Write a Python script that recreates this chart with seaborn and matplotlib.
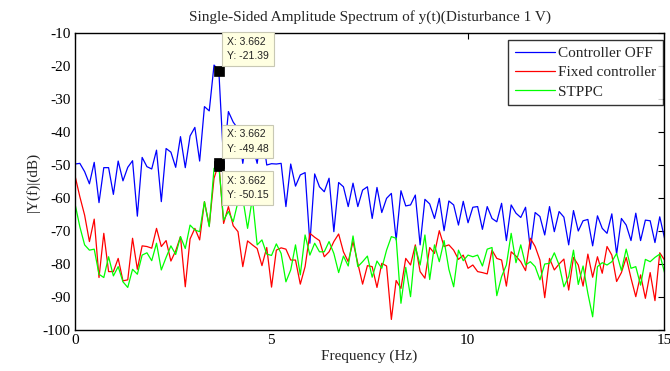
import numpy as np
import pandas as pd
import seaborn as sns
import matplotlib.pyplot as plt

# FFT bin spacing (fs / N)
df_hz = 125 / 1024

# |Y(f)| in dB, one value per frequency bin
ctrl_off = [-49.7, -49.5, -52.0, -55.7, -49.2, -61.4, -50.8, -50.8, -58.9, -48.8,
            -54.8, -50.7, -48.7, -65.5, -47.7, -50.5, -51.2, -45.5, -61.1, -45.0,
            -46.1, -50.7, -41.4, -50.8, -41.2, -38.6, -48.8, -32.3, -33.6, -19.7,
            -21.39, -49.0, -33.8, -37.0, -39.0, -49.5, -40.0, -44.0, -49.5, -39.0,
            -50.0, -49.6, -49.7, -49.5, -62.6, -49.7, -56.4, -53.0, -52.3, -73.7,
            -52.7, -56.6, -58.1, -54.0, -70.2, -55.3, -56.6, -62.6, -55.5, -62.6,
            -57.6, -56.6, -66.2, -56.8, -64.4, -60.1, -58.6, -72.7, -57.8, -62.4,
            -62.1, -59.1, -74.2, -60.4, -61.8, -66.2, -60.1, -69.9, -60.9, -62.1,
            -68.2, -61.0, -67.5, -62.8, -62.6, -69.5, -62.6, -66.2, -67.2, -61.6,
            -72.9, -62.1, -64.6, -65.9, -62.8, -75.5, -64.4, -65.6, -71.2, -62.6,
            -70.2, -64.1, -65.8, -74.2, -63.8, -70.0, -66.9, -66.5, -74.5, -65.4,
            -69.2, -70.7, -64.8, -77.0, -66.2, -68.2, -72.9, -64.6, -72.9, -66.7,
            -66.9, -73.5, -65.7, -72.2]

fixed_ctrl = [-53.3, -59.6, -65.2, -73.2, -66.4, -84.1, -70.7, -82.3, -82.3, -78.3,
              -85.1, -84.8, -72.2, -81.6, -74.5, -74.7, -75.2, -69.2, -74.7, -72.9,
              -79.1, -76.0, -71.7, -86.9, -72.4, -69.2, -72.7, -61.1, -68.4, -54.0,
              -49.48, -67.7, -62.6, -68.4, -70.2, -80.8, -73.0, -74.2, -75.3, -80.5,
              -75.0, -87.0, -75.8, -75.1, -75.5, -78.8, -78.8, -86.1, -80.8, -70.7,
              -71.9, -72.9, -77.8, -76.3, -73.2, -70.9, -76.3, -79.3, -73.2, -79.8,
              -86.1, -80.5, -80.8, -87.1, -79.8, -80.6, -96.8, -85.0, -87.4, -78.3,
              -80.3, -74.2, -82.3, -84.3, -75.0, -76.8, -69.9, -74.7, -74.2, -75.8,
              -78.6, -77.3, -81.3, -80.3, -82.3, -82.6, -83.0, -75.8, -78.3, -78.8,
              -86.7, -76.3, -77.6, -79.3, -82.0, -72.2, -74.7, -78.8, -90.2, -78.3,
              -81.8, -80.0, -78.5, -87.9, -78.0, -80.3, -86.7, -77.0, -84.0, -77.8,
              -82.8, -74.7, -77.3, -85.3, -82.6, -78.0, -84.3, -89.9, -83.3, -90.4,
              -82.6, -91.1, -76.6, -78.8]

stppc = [-61.8, -68.7, -74.2, -75.8, -75.5, -83.1, -84.1, -77.8, -83.6, -80.8,
         -85.4, -87.1, -81.6, -83.1, -77.3, -76.6, -79.0, -73.7, -81.8, -78.0,
         -74.5, -77.1, -71.7, -75.3, -68.2, -69.7, -70.2, -61.1, -68.7, -51.0,
         -50.15, -66.7, -64.1, -67.2, -61.1, -60.1, -69.2, -60.1, -74.2, -72.7,
         -77.0, -77.4, -73.9, -76.8, -85.4, -81.8, -74.2, -83.3, -71.2, -77.3,
         -73.7, -76.3, -76.3, -73.2, -76.8, -82.6, -77.6, -80.6, -71.5, -80.8,
         -79.3, -77.6, -84.0, -79.1, -81.3, -75.8, -71.7, -72.2, -91.9, -81.0,
         -89.9, -74.7, -80.3, -71.2, -84.7, -74.2, -79.3, -72.9, -81.6, -86.9,
         -75.8, -79.0, -77.3, -77.8, -77.3, -80.6, -75.5, -75.0, -89.6, -83.8,
         -80.3, -70.7, -79.6, -74.2, -80.3, -79.3, -80.8, -84.8, -80.0, -79.8,
         -76.6, -80.3, -86.9, -83.8, -75.8, -86.2, -80.6, -88.9, -96.0, -80.8,
         -79.6, -80.3, -79.3, -76.8, -82.0, -75.5, -81.3, -80.8, -86.4, -78.6,
         -79.3, -78.0, -77.0, -82.6]

series_names = ['Controller OFF', 'Fixed controller', 'STPPC']
series_colors = ['#0000ff', '#ff0000', '#00ff00']

# data tips (x, y)
tip_x = [3.662, 3.662, 3.662]
tip_y = [-21.39, -49.48, -50.15]

freq = np.arange(len(ctrl_off)) * df_hz
df = pd.concat([
    pd.DataFrame({'freq': freq, 'amp': vals, 'series': name})
    for name, vals in zip(series_names, [ctrl_off, fixed_ctrl, stppc])
])

sns.set_theme(style='white')
plt.rcParams['font.family'] = ['Liberation Serif', 'DejaVu Serif']
plt.rcParams['axes.unicode_minus'] = False

fig = plt.figure(figsize=(6.7, 3.71), dpi=100)
ax = fig.add_axes([0.112, 0.1105, 0.879, 0.8005])

sns.lineplot(data=df, x='freq', y='amp', hue='series', hue_order=series_names,
             palette=series_colors, estimator=None, sort=False, linewidth=0.9, ax=ax)

ax.set_xlim(0, 15)
ax.set_ylim(-100, -10)
ax.set_xticks([0, 5, 10, 15])
ax.set_yticks(np.arange(-100, -9, 10))
ax.tick_params(direction='in', length=4, width=0.8, top=True, right=True,
               labelsize=11, colors='black', pad=3)
for s in ax.spines.values():
    s.set_color('black')
    s.set_linewidth(1.0)

ax.set_title('Single-Sided Amplitude Spectrum of y(t)(Disturbance 1 V)', fontsize=11, pad=9)
ax.set_xlabel('Frequency (Hz)', fontsize=11, labelpad=2)
ax.set_ylabel('|Y(f)|(dB)', fontsize=11, labelpad=2)

leg = ax.legend(loc='upper right', bbox_to_anchor=(0.999, 0.977), borderaxespad=0,
                fontsize=11, frameon=True, fancybox=False, handlelength=2.6,
                borderpad=0.45, labelspacing=0.35, handletextpad=0.25)
leg.get_frame().set_edgecolor('black')
leg.get_frame().set_linewidth(1.0)

# data tip markers
ax.plot(tip_x, tip_y, linestyle='none', marker='s', markersize=6.5,
        markerfacecolor='black', markeredgecolor='black', markeredgewidth=0.5, zorder=5)

tip_box = dict(boxstyle='square,pad=0.45', fc='#ffffe1', ec='#c8c8b4', lw=0.8)
tip_pos = [(3.87, -11.2), (3.87, -39.2), (3.87, -53.2)]
for (tx, ty), xv, yv in zip(tip_pos, tip_x, tip_y):
    ax.text(tx, ty, f'X: {xv:.3f}\nY: {yv:.2f}', fontsize=7.5, va='top', ha='left',
            family=['Liberation Sans', 'DejaVu Sans'], color='#222222', bbox=tip_box,
            linespacing=1.55, zorder=6, clip_on=False)

fig.savefig('out.png', dpi=100)
